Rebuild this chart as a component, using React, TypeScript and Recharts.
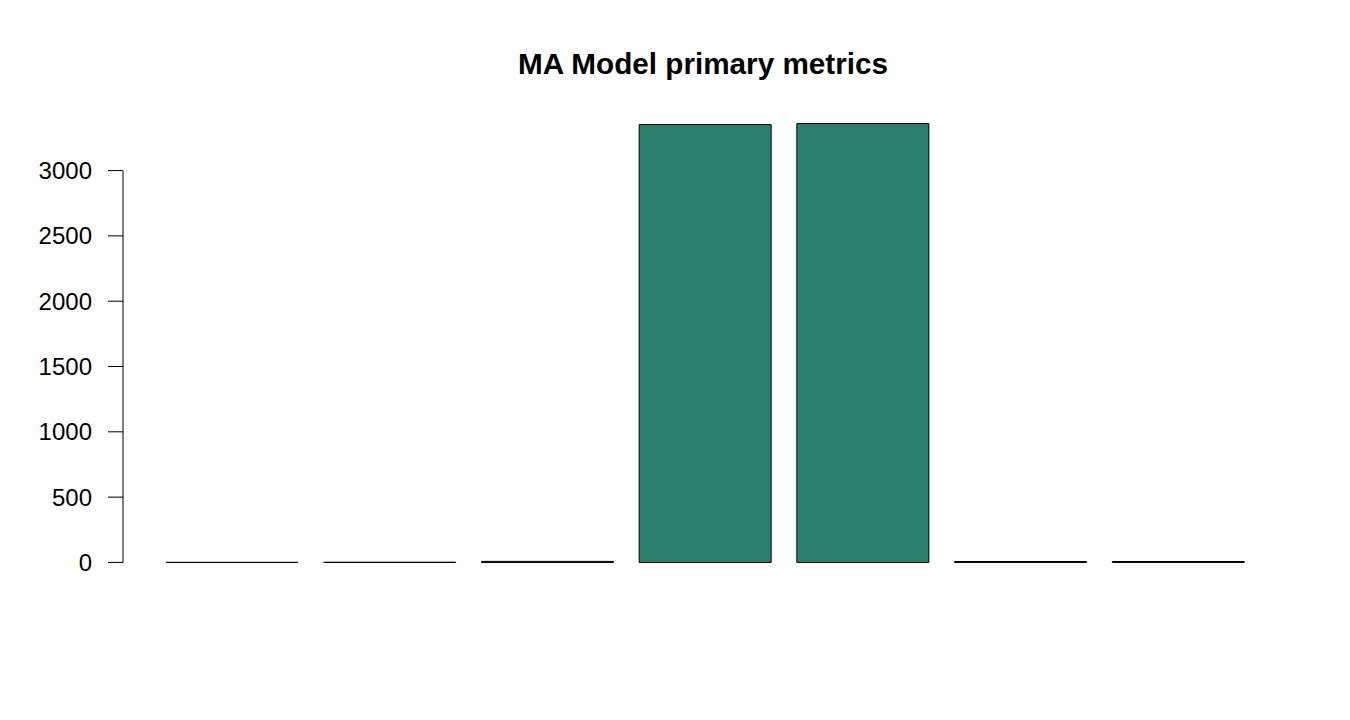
import React from 'react';
import { BarChart, Bar, XAxis, YAxis, ReferenceLine } from 'recharts';

const metrics = ['ME', 'RMSE', 'MAE', 'MPE', 'MAPE', 'MASE', 'ACF1'];
const values = [0.5, 1.5, 8, 3352, 3360, 7, 7];
const yTicks = [0, 500, 1000, 1500, 2000, 2500, 3000];

const data = metrics.map((m, i) => ({ name: m, value: values[i] }));

const FONT = 'Arial, "Liberation Sans", Helvetica, sans-serif';

export default function App() {
  return (
    <div style={{ position: 'absolute', left: 0, top: 0, width: 1350, height: 720, background: '#fff' }}>
      <svg width={1350} height={720} style={{ position: 'absolute', left: 0, top: 0 }}>
        <text x={703} y={74} textAnchor="middle" fontFamily={FONT} fontWeight="bold" fontSize={29.7} fill="#000">
          MA Model primary metrics
        </text>
      </svg>
      <div style={{ position: 'absolute', left: 0, top: 0 }}>
        <BarChart
          width={1350}
          height={720}
          data={data}
          margin={{ top: 106, right: 62, bottom: 140, left: 63 }}
        >
          <XAxis dataKey="name" hide padding={{ left: 30, right: 31 }} />
          <XAxis xAxisId="n" type="number" domain={[0, 1]} hide />
          <YAxis
            width={60}
            type="number"
            domain={[-134.4, 3494.4]}
            ticks={yTicks}
            interval={0}
            axisLine={false}
            tickSize={15}
            tickMargin={16}
            tickLine={{ stroke: '#000', strokeWidth: 1 }}
            tick={{ fill: '#000', fontSize: 24, fontFamily: FONT }}
          />
          <ReferenceLine
            xAxisId="n"
            segment={[{ x: 0, y: 0 }, { x: 0, y: 3000 }]}
            stroke="#000"
            strokeWidth={1}
          />
          <Bar dataKey="value" fill="#2E806E" stroke="#000" strokeWidth={1} barSize={132} isAnimationActive={false} />
        </BarChart>
      </div>
    </div>
  );
}
